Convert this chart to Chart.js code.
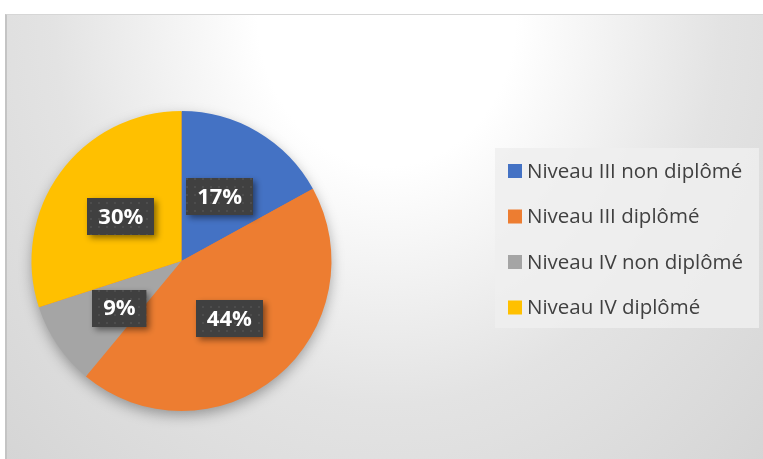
<!DOCTYPE html>
<html>
<head>
<meta charset="utf-8">
<script src="https://cdn.jsdelivr.net/npm/chart.js@4"></script>
<style>
  html, body { margin: 0; padding: 0; background: #fff; }
  #frame {
    position: absolute; left: 5px; top: 14px; width: 760px; height: 445px;
    border-left: 2px solid #c4c4c4; border-top: 1px solid #d6d6d6;
    background: radial-gradient(ellipse farthest-corner at 50% 0%, #fff 0%, #fff 24%, #e3e3e3 62%, #d5d5d5 100%);
  }
  #pie { position: absolute; left: 0; top: 0; }
</style>
</head>
<body>
<div id="frame"></div>
<canvas id="pie" width="763" height="459"></canvas>
<script>
// --- Data ---
const categories = ["Niveau III non diplômé", "Niveau III diplômé", "Niveau IV non diplômé", "Niveau IV diplômé"];
const shares = [17, 44, 9, 30];
const colors = ["#4472C4", "#ED7D31", "#A5A5A5", "#FFC000"];

// --- Helpers ---

function dotPattern(ctx) {
  const c = document.createElement("canvas");
  c.width = 8; c.height = 8;
  const p = c.getContext("2d");
  p.fillStyle = "#404040";
  p.fillRect(0, 0, 8, 8);
  p.fillStyle = "#4d4d4d";
  p.fillRect(2, 2, 2, 2);
  return ctx.createPattern(c, "repeat");
}

// soft shadow under the whole pie
const pieShadow = {
  id: "pieShadow",
  beforeDatasetsDraw(chart) {
    const arc = chart.getDatasetMeta(0).data[0];
    if (!arc) return;
    const ctx = chart.ctx;
    ctx.save();
    ctx.shadowColor = "rgba(0,0,0,0.35)";
    ctx.shadowBlur = 14;
    ctx.shadowOffsetY = 5;
    ctx.fillStyle = "#ED7D31";
    ctx.beginPath();
    ctx.arc(arc.x, arc.y, arc.outerRadius - 1, 0, Math.PI * 2);
    ctx.fill();
    ctx.restore();
  }
};

// dark data label boxes at the slice centroids
const labelBoxes = {
  id: "labelBoxes",
  afterDatasetsDraw(chart) {
    const ctx = chart.ctx;
    const pat = dotPattern(ctx);
    const values = chart.data.datasets[0].data;
    chart.getDatasetMeta(0).data.forEach((arc, i) => {
      const pos = arc.tooltipPosition();
      if (values[i] < 10) pos.y += 5; // small slice: Excel nudges it outward
      const txt = values[i] + "%";
      ctx.save();
      ctx.font = "bold 22px 'Open Sans'";
      const w = ctx.measureText(txt).width + 22;
      const h = 37;
      const x = Math.round(pos.x - w / 2), y = Math.round(pos.y - h / 2);
      ctx.shadowColor = "rgba(0,0,0,0.45)";
      ctx.shadowBlur = 6;
      ctx.shadowOffsetX = 3;
      ctx.shadowOffsetY = 3;
      ctx.fillStyle = pat;
      ctx.fillRect(x, y, w, h);
      ctx.shadowColor = "transparent";
      ctx.fillStyle = "#fff";
      ctx.textAlign = "center";
      ctx.textBaseline = "middle";
      ctx.fillText(txt, pos.x, pos.y + 1);
      ctx.restore();
    });
  }
};

// legend panel on the right
const sideLegend = {
  id: "sideLegend",
  afterDraw(chart) {
    const ctx = chart.ctx;
    ctx.save();
    ctx.fillStyle = "rgba(238,238,238,0.85)";
    ctx.fillRect(495, 148, 264, 180);
    ctx.font = "20.5px 'Open Sans'";
    ctx.textBaseline = "middle";
    chart.data.labels.forEach((lab, i) => {
      const cy = 171 + i * 45.5;
      ctx.fillStyle = chart.data.datasets[0].backgroundColor[i];
      ctx.fillRect(508, cy - 7, 14, 14);
      ctx.fillStyle = "#404040";
      ctx.fillText(lab, 527, cy + 1);
    });
    ctx.restore();
  }
};

// --- Chart ---

new Chart(document.getElementById("pie").getContext("2d"), {
  type: "pie",
  data: {
    labels: categories,
    datasets: [{
      data: shares,
      backgroundColor: colors,
      borderWidth: 0
    }]
  },
  options: {
    responsive: false,
    animation: false,
    layout: { padding: { left: 31.5, top: 111, right: 431.5, bottom: 48 } },
    plugins: {
      legend: { display: false },
      tooltip: { enabled: false }
    }
  },
  plugins: [pieShadow, labelBoxes, sideLegend]
});
</script>
</body>
</html>
